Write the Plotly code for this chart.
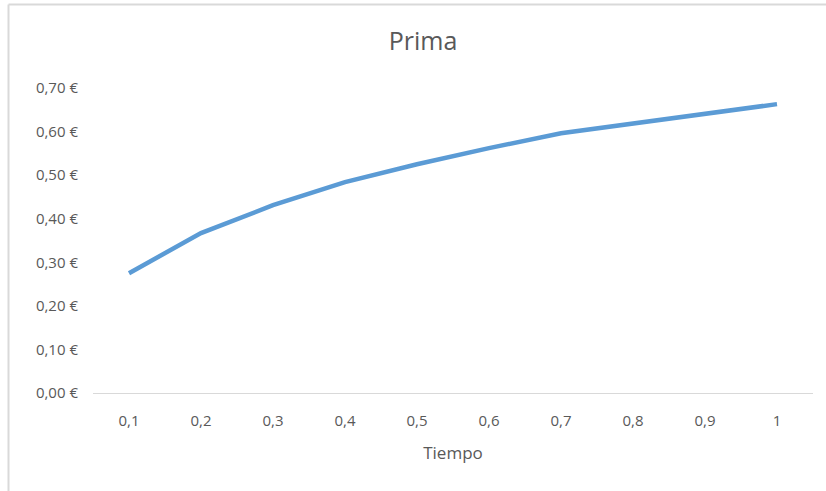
import plotly.graph_objects as go

tiempo = ["0,1", "0,2", "0,3", "0,4", "0,5", "0,6", "0,7", "0,8", "0,9", "1"]
prima = [0.275, 0.367, 0.431, 0.484, 0.525, 0.562, 0.596, 0.619, 0.642, 0.663]
y_tick_vals = [0.0, 0.1, 0.2, 0.3, 0.4, 0.5, 0.6, 0.7]
y_tick_text = ["0,00 €", "0,10 €", "0,20 €", "0,30 €", "0,40 €", "0,50 €", "0,60 €", "0,70 €"]

W, H = 826, 491
L, R, T, B = 93, 13, 88, 98
pw, ph = W - L - R, H - T - B

def px(x):
    return (x - L) / pw

def py(y):
    return (H - B - y) / ph

font = "'Open Sans', sans-serif"
gray = "#595959"
border = "#d9d9d9"

fig = go.Figure()
fig.add_trace(go.Scatter(
    x=tiempo, y=prima, mode="lines",
    line=dict(color="#5B9BD5", width=4.5),
    hoverinfo="x+y",
))

fig.update_layout(
    width=W, height=H,
    margin=dict(l=L, r=R, t=T, b=B),
    paper_bgcolor="white", plot_bgcolor="white",
    showlegend=False,
    font=dict(family=font, color=gray, size=15),
    title=dict(text="Prima", x=px(423), xref="paper", xanchor="center",
               y=1 - 41 / H, yref="container", yanchor="middle",
               font=dict(family=font, size=25, color=gray)),
    xaxis=dict(type="category", range=[-0.5, 9.5],
               showgrid=False, zeroline=False,
               showline=True, linecolor=border, linewidth=1,
               ticks="", ticklabelstandoff=14,
               tickfont=dict(size=15, color=gray),
               title=dict(text="Tiempo", standoff=18,
                          font=dict(size=17, color=gray))),
    yaxis=dict(range=[0, 0.7], showgrid=False, zeroline=False,
               showline=False, ticks="",
               tickvals=y_tick_vals, ticktext=y_tick_text,
               ticklabelstandoff=14,
               tickfont=dict(size=15, color=gray)),
    shapes=[
        dict(type="line", xref="paper", yref="paper",
             x0=px(8.5), x1=px(W), y0=py(4.5), y1=py(4.5),
             line=dict(color=border, width=2)),
        dict(type="line", xref="paper", yref="paper",
             x0=px(8.5), x1=px(8.5), y0=py(4.5), y1=py(H),
             line=dict(color=border, width=2)),
    ],
)

fig.write_html("out.html", config={"displayModeBar": False},
               post_script="document.body.style.margin='0';")
